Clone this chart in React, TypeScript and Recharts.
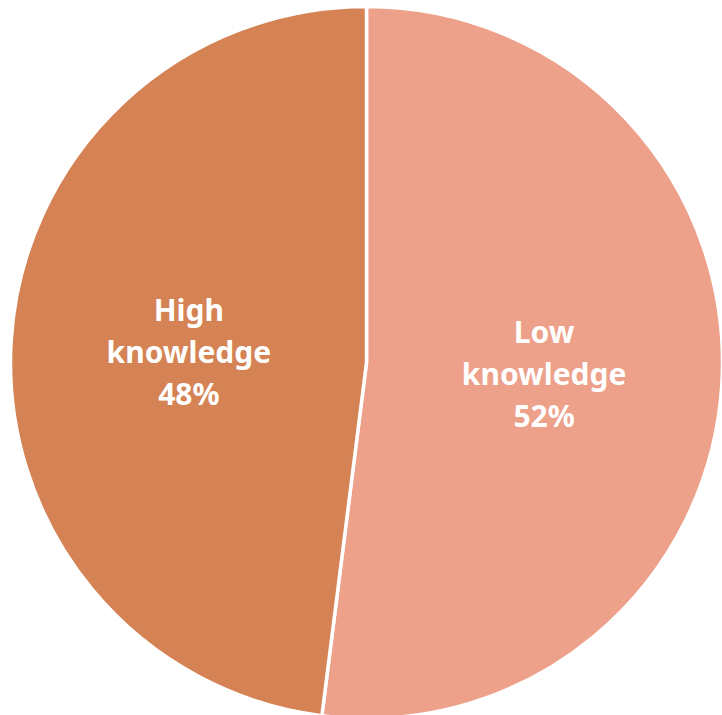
import { PieChart, Pie, Cell } from "recharts";

const categories = ["Low knowledge", "High knowledge"];
const shares = [52, 48];
const sliceColors = ["#EDA08A", "#D58254"];

const chartData = categories.map((name, i) => ({ name, value: shares[i] }));

const RADIAN = Math.PI / 180;

const renderLabel = (props: any) => {
  const { cx, cy, midAngle, outerRadius, name, value } = props;
  const r = outerRadius * 0.5;
  const x = cx + r * Math.cos(-midAngle * RADIAN);
  const y = cy + r * Math.sin(-midAngle * RADIAN);
  const words = name.split(" ");
  const lines = [...words, `${value}%`];
  return (
    <text
      x={x}
      y={y}
      fill="#fff"
      textAnchor="middle"
      fontFamily="'Noto Sans', sans-serif"
      fontWeight={700}
      fontSize={30}
    >
      {lines.map((line: string, i: number) => (
        <tspan
          key={i}
          x={x}
          y={y + (i - 1) * 42}
          dominantBaseline="central"
        >
          {line}
        </tspan>
      ))}
    </text>
  );
};

export default function App() {
  return (
    <div style={{ position: "absolute", left: 0, top: 0 }}>
      <PieChart
        width={722}
        height={715}
        margin={{ top: 0, right: 0, bottom: 0, left: 0 }}
      >
        <Pie
          data={chartData}
          dataKey="value"
          nameKey="name"
          cx={366.5}
          cy={362.5}
          outerRadius={356}
          startAngle={90}
          endAngle={-270}
          stroke="#fff"
          strokeWidth={3.5}
          label={renderLabel}
          labelLine={false}
          isAnimationActive={false}
        >
          {chartData.map((entry, i) => (
            <Cell key={entry.name} fill={sliceColors[i]} />
          ))}
        </Pie>
      </PieChart>
    </div>
  );
}
